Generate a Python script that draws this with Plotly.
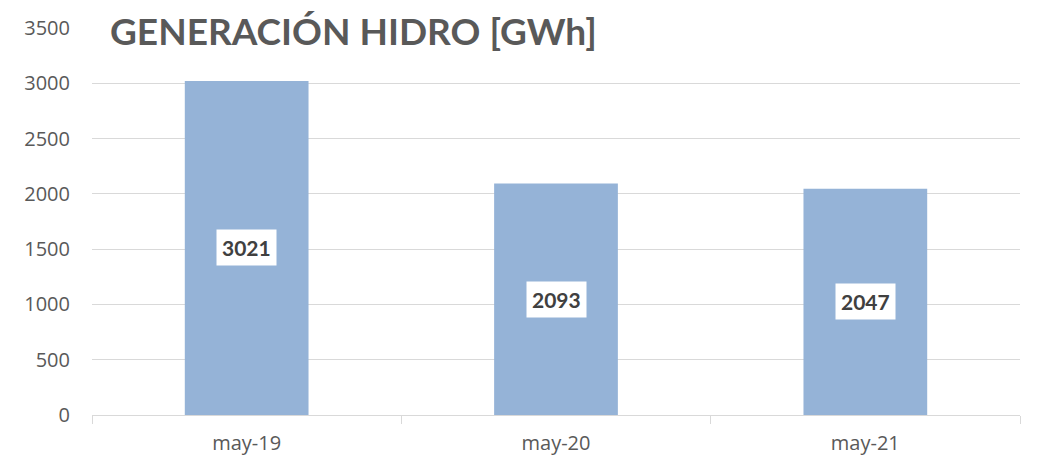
import plotly.graph_objects as go

# datos
meses = ['may-19', 'may-20', 'may-21']
generacion = [3021, 2093, 2047]
titulo = 'GENERACIÓN HIDRO [GWh]'

fig = go.Figure()
fig.add_trace(go.Bar(x=meses, y=generacion, marker=dict(color='#95B3D7', line=dict(width=0)), hoverinfo='x+y'))

# etiquetas con fondo blanco en el centro de cada barra
for m, v in zip(meses, generacion):
    fig.add_annotation(x=m, y=v / 2, text='<b>%d</b>' % v, showarrow=False,
                       bgcolor='white', borderpad=5,
                       font=dict(family='Lato, Open Sans, sans-serif', size=21, color='#404040'))

# titulo sobre la grilla
fig.add_annotation(xref='paper', yref='y', x=0.018, y=3500, xanchor='left', yanchor='middle',
                   yshift=-2, text='<b>' + titulo + '</b>', showarrow=False, bgcolor='white', borderpad=0,
                   font=dict(family='Lato, Open Sans, sans-serif', size=37, color='#595959'))

# la pagina tiene 8px de margen en el body
fig.update_layout(
    width=1030, height=461,
    margin=dict(l=84, r=18, t=20, b=54),
    plot_bgcolor='white', paper_bgcolor='white',
    bargap=0.6, showlegend=False,
    font=dict(family='Open Sans, sans-serif', size=20, color='#595959'),
)
fig.update_yaxes(range=[0, 3500], dtick=500, showgrid=True, gridcolor='#d9d9d9', gridwidth=1,
                 zeroline=False, ticks='', ticklabelstandoff=21, automargin=False,
                 tickfont=dict(size=20, color='#595959'))
fig.update_xaxes(showline=True, linecolor='#d9d9d9', linewidth=1, ticks='outside', tickson='boundaries',
                 ticklen=8, tickcolor='#d9d9d9', automargin=False, ticklabelstandoff=10,
                 tickfont=dict(size=20, color='#595959'))

fig.write_html('out.html')
